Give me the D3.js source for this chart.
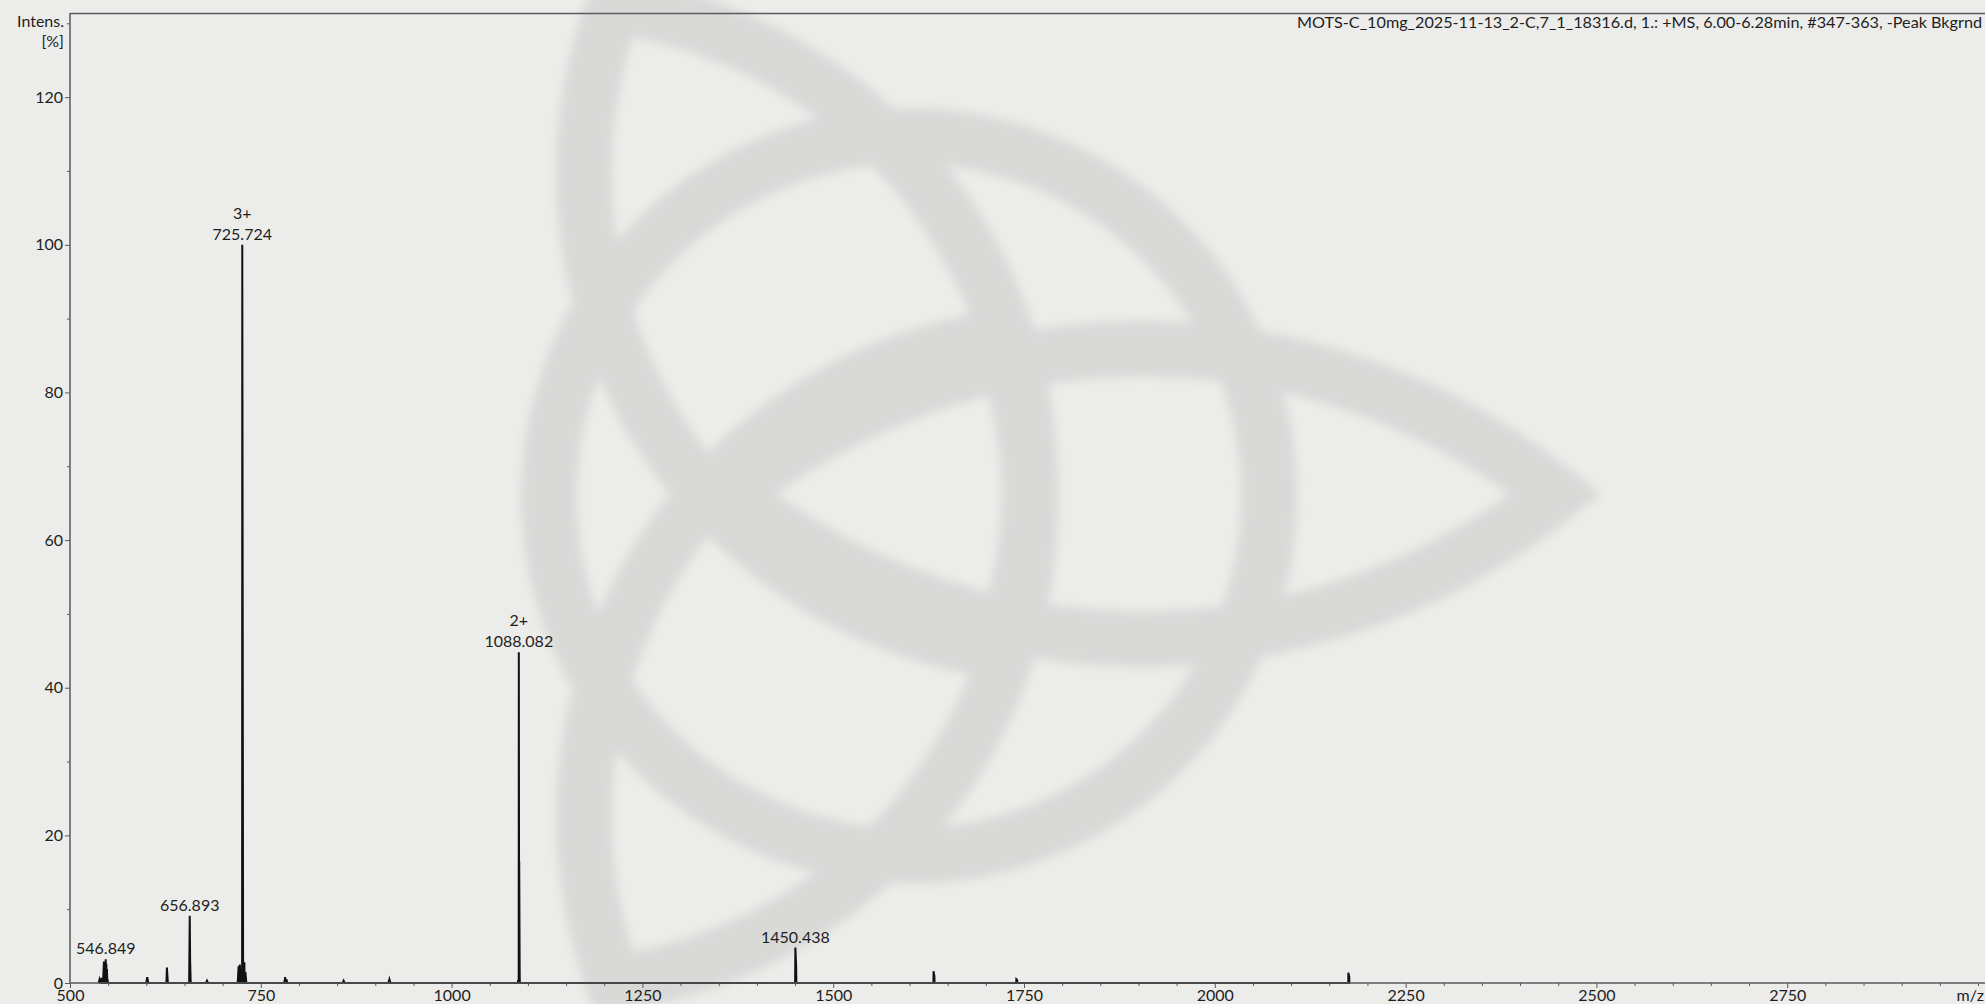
<!DOCTYPE html>
<html>
<head>
<meta charset="utf-8">
<script src="https://cdn.jsdelivr.net/npm/d3@7"></script>
<style>
  html, body { margin: 0; padding: 0; background: #ececea; overflow: hidden; }
  svg { display: block; }
  text { font-family: Lato, "Open Sans", sans-serif; fill: #1e1e1e; }
</style>
</head>
<body>
<div id="chart"></div>
<script>

// peak list (m/z, relative intensity %)
const peakMz = [538.8, 541.5, 544.5, 546.849, 547.6, 548.4, 549.3,
    601.2, 627.0, 627.6, 656.893, 657.4, 679.5,
    721.0, 722.5, 725.724, 726.06, 726.8, 728.5, 729.8,
    782.0, 783.5, 858.5, 918.5,
    1087.2, 1088.082, 1088.58, 1089.2,
    1450.438, 1451.4, 1631.5, 1632.6, 1740.0, 1741.0, 2175.0, 2176.2];
const peakInt = [0.5, 0.7, 2.9, 3.2, 2.6, 1.9, 0.5,
    0.8, 2.1, 1.0, 9.1, 3.0, 0.3,
    2.3, 2.5, 100, 71, 3.0, 2.8, 1.5,
    0.8, 0.5, 0.3, 0.5,
    0.4, 44.8, 16.5, 1.5,
    4.8, 2.4, 1.6, 0.9, 0.5, 0.4, 1.4, 0.8];

// annotated peaks
const labelMz = [546.849, 656.893, 725.724, 1088.082, 1450.438];
const labelInt = [3.2, 9.1, 100, 44.8, 4.8];
const labelCharge = ["", "", "3+", "2+", ""];

const xMajor = [500, 750, 1000, 1250, 1500, 1750, 2000, 2250, 2500, 2750];
const yMajor = [0, 20, 40, 60, 80, 100, 120];
const yMinor = [10, 30, 50, 70, 90, 110, 130];

const title = "MOTS-C_10mg_2025-11-13_2-C,7_1_18316.d, 1.: +MS, 6.00-6.28min, #347-363, -Peak Bkgrnd";

const W = 1985, H = 1004;
const plotLeft = 70, plotTop = 13, plotBottom = 983, axisEnd = 1985;
const fs = 16;

const svg = d3.select("#chart").append("svg")
    .attr("width", W).attr("height", H);

svg.append("rect").attr("width", W).attr("height", H).attr("fill", "#ececea");

// watermark: triquetra + circle, soft grey
const defs = svg.append("defs");
defs.append("filter").attr("id", "soft")
    .attr("x", "-20%").attr("y", "-20%").attr("width", "140%").attr("height", "140%")
    .append("feGaussianBlur").attr("stdDeviation", 5);

const wm = svg.append("g").attr("filter", "url(#soft)")
    .attr("fill", "none").attr("stroke", "#d9d9d8").attr("stroke-width", 56)
    .attr("stroke-linejoin", "miter").attr("stroke-miterlimit", 20);
wm.append("circle").attr("cx", 909).attr("cy", 496).attr("r", 360);

// lobes: [tip x, tip y, apex x, apex y, bulge]
const lobes = [
    [730, 494, 1556, 494, 145],
    [1000, 651, 614, 6, 180],
    [1000, 338, 614, 983, 180]
];
lobes.forEach(([tx, ty, ax, ay, s]) => {
    const half = Math.hypot(ax - tx, ay - ty) / 2;
    const r = (half * half + s * s) / (2 * s);
    wm.append("path")
        .attr("d", `M${tx},${ty} A${r},${r} 0 0 1 ${ax},${ay} A${r},${r} 0 0 1 ${tx},${ty}`);
});

const x = d3.scaleLinear().domain([500, 3000]).range([plotLeft, 1978]);
const y = d3.scaleLinear().domain([0, 131.4]).range([plotBottom, plotTop]);

// frame
svg.append("line").attr("x1", plotLeft).attr("x2", axisEnd).attr("y1", plotTop + 0.5).attr("y2", plotTop + 0.5)
    .attr("stroke", "#5a5a5a").attr("stroke-width", 1.5);

// spectrum as narrow triangular profile peaks
const pts = [];
peakMz.forEach((m, i) => {
    pts.push([m - 1.3, 0], [m, peakInt[i]], [m + 1.3, 0]);
});
pts.sort((a, b) => a[0] - b[0]);

svg.append("path").datum(pts)
    .attr("d", d3.area().x(d => x(d[0])).y0(y(0)).y1(d => y(d[1])))
    .attr("fill", "#111");
svg.append("path").datum(pts)
    .attr("d", d3.line().x(d => x(d[0])).y(d => y(d[1])))
    .attr("fill", "none").attr("stroke", "#111").attr("stroke-width", 2);

// axes
function styleAxis(g) {
    g.selectAll("path.domain").attr("stroke", "#5a5a5a").attr("stroke-width", 1.5);
    g.selectAll(".tick line").attr("stroke", "#5a5a5a");
    g.selectAll("text").attr("font-family", "Lato, sans-serif").attr("font-size", fs).attr("fill", "#1e1e1e");
}

const yAxis = svg.append("g").attr("transform", `translate(${plotLeft},0)`)
    .call(d3.axisLeft(y).tickValues(yMajor).tickSize(5).tickPadding(2).tickSizeOuter(0));
styleAxis(yAxis);
yAxis.select("path.domain").attr("d", `M0,${plotTop}V${plotBottom}`);
const yAxisMinor = svg.append("g").attr("transform", `translate(${plotLeft},0)`)
    .call(d3.axisLeft(y).tickValues(yMinor).tickSize(3).tickFormat(""));
styleAxis(yAxisMinor);
yAxisMinor.select("path.domain").remove();

const xMinor = d3.range(550, 3001, 50).filter(v => v % 250 !== 0);
const xAxis = svg.append("g").attr("transform", `translate(0,${plotBottom})`)
    .call(d3.axisBottom(x).tickValues(xMajor).tickSize(5).tickPadding(4).tickSizeOuter(0).tickFormat(d3.format("d")));
styleAxis(xAxis);
xAxis.select("path.domain").attr("d", `M${plotLeft},0H${axisEnd}`);
xAxis.selectAll(".tick text").attr("dy", null).attr("y", 18);
const xAxisMinor = svg.append("g").attr("transform", `translate(0,${plotBottom})`)
    .call(d3.axisBottom(x).tickValues(xMinor.concat([3000])).tickSize(3).tickFormat(""));
styleAxis(xAxisMinor);
xAxisMinor.select("path.domain").remove();

// axis titles
svg.append("text").attr("x", 64).attr("y", 27).attr("text-anchor", "end")
    .attr("font-size", fs).text("Intens.");
svg.append("text").attr("x", 64).attr("y", 47).attr("text-anchor", "end")
    .attr("font-size", fs).text("[%]");
svg.append("text").attr("x", 1984).attr("y", plotBottom + 18).attr("text-anchor", "end")
    .attr("font-size", fs).text("m/z");

// title
svg.append("text").attr("x", 1982).attr("y", 28).attr("text-anchor", "end")
    .attr("font-size", 16.2).text(title);

// peak labels
labelMz.forEach((m, i) => {
    const px = x(m), py = y(labelInt[i]);
    svg.append("text").attr("x", px).attr("y", py - 5).attr("text-anchor", "middle")
        .attr("font-size", fs).text(m.toFixed(3));
    if (labelCharge[i]) {
        svg.append("text").attr("x", px).attr("y", py - 26).attr("text-anchor", "middle")
            .attr("font-size", fs).text(labelCharge[i]);
    }
});
</script>
</body>
</html>
